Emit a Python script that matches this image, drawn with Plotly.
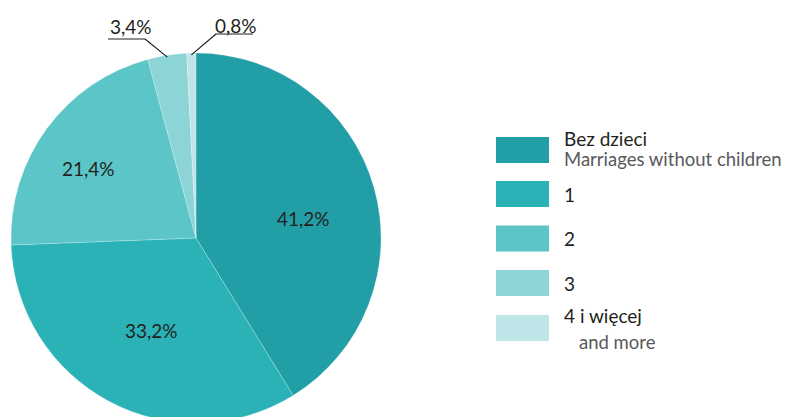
import math
import plotly.graph_objects as go

# Struktura małżeństw według liczby dzieci
categories = ["Bez dzieci", "1", "2", "3", "4 i więcej"]
subtitles = ["Marriages without children", "", "", "", "and more"]
shares = [41.2, 33.2, 21.4, 3.4, 0.8]
colors = ["#219ea6", "#2ab2b7", "#5bc5c8", "#8dd4d7", "#bfe5e8"]

W, H = 786, 423
CX, CY, R = 196, 238, 185          # pie centre and radius in px
FONT = "Lato"
DARK = "#231f20"
GREY = "#58595b"


def px(x):
    return x / W


def py(y):
    return 1 - y / H


def fmt(v):
    return f"{v:.1f}".replace(".", ",") + "%"


def edge_point(angle_deg, frac=1.0):
    a = math.radians(angle_deg)
    return CX + frac * R * math.sin(a), CY - frac * R * math.cos(a)


fig = go.Figure(go.Pie(
    labels=categories,
    values=shares,
    sort=False,
    direction="clockwise",
    rotation=0,
    marker=dict(colors=colors, line=dict(color="rgba(255,255,255,0.45)", width=0.5)),
    textinfo="none",
    hoverinfo="skip",
    showlegend=False,
    domain=dict(x=[px(CX - R), px(CX + R)], y=[0, 2 * R / H]),
))

# mid angle of each slice, clockwise from 12 o'clock
total = sum(shares)
mid_angles = []
acc = 0.0
for v in shares:
    mid_angles.append((acc + v / 2) / total * 360)
    acc += v

annotations = []
shapes = []

# labels inside the three large slices: (radial fraction, angular nudge)
inside_place = {0: (0.59, 5.7), 1: (0.553, -2.5), 2: (0.694, -3.5)}
for i, (frac, nudge) in inside_place.items():
    x, y = edge_point(mid_angles[i] + nudge, frac)
    annotations.append(dict(
        x=px(x), y=py(y), xref="paper", yref="paper",
        text=fmt(shares[i]), showarrow=False,
        xanchor="center", yanchor="middle",
        font=dict(family=FONT, size=19, color=DARK),
    ))

# labels for the two thin slices, with leader line and underline
outside_place = {
    3: dict(elbow=(145, 39), tail=108, text=(131, 27)),
    4: dict(elbow=(216, 34), tail=253, text=(235.5, 26)),
}
for i, p in outside_place.items():
    ex, ey = edge_point(mid_angles[i], 0.99)
    bx, by = p["elbow"]
    shapes.append(dict(type="line", xref="paper", yref="paper",
                       x0=px(ex), y0=py(ey), x1=px(bx), y1=py(by),
                       line=dict(color=DARK, width=1.2)))
    shapes.append(dict(type="line", xref="paper", yref="paper",
                       x0=px(bx), y0=py(by), x1=px(p["tail"]), y1=py(by),
                       line=dict(color=DARK, width=1.2)))
    tx, ty = p["text"]
    annotations.append(dict(
        x=px(tx), y=py(ty), xref="paper", yref="paper",
        text=fmt(shares[i]), showarrow=False,
        xanchor="center", yanchor="middle",
        font=dict(family=FONT, size=19, color=DARK),
    ))

# legend drawn as swatches plus two-level captions
sw_x0, sw_x1 = 496, 549
sw_tops = [137, 181, 225.5, 270, 315]
sw_h = 26
text_x = 562
for i, cat in enumerate(categories):
    top = sw_tops[i]
    shapes.append(dict(type="rect", xref="paper", yref="paper",
                       x0=px(sw_x0), x1=px(sw_x1), y0=py(top), y1=py(top + sw_h),
                       fillcolor=colors[i], line=dict(width=0)))
    mid = top + sw_h / 2
    if subtitles[i]:
        first_base, second_base = mid - 5.5, mid + 20.5
        if i == 0:
            first_base, second_base = mid - 5, mid + 16
        annotations.append(dict(
            x=px(text_x), y=py(first_base - 7), xref="paper", yref="paper",
            text=cat, showarrow=False, xanchor="left", yanchor="middle",
            font=dict(family=FONT, size=19, color=DARK),
        ))
        sub_x = text_x if i == 0 else text_x + 15
        annotations.append(dict(
            x=px(sub_x), y=py(second_base - 7), xref="paper", yref="paper",
            text=subtitles[i], showarrow=False, xanchor="left", yanchor="middle",
            font=dict(family=FONT, size=18.5, color=GREY),
        ))
    else:
        annotations.append(dict(
            x=px(text_x), y=py(mid), xref="paper", yref="paper",
            text=cat, showarrow=False, xanchor="left", yanchor="middle",
            font=dict(family=FONT, size=19, color=DARK),
        ))

fig.update_layout(
    width=W, height=H,
    margin=dict(l=0, r=0, t=0, b=0),
    paper_bgcolor="white",
    plot_bgcolor="white",
    annotations=annotations,
    shapes=shapes,
)

fig.write_html(
    "out.html",
    config={"displayModeBar": False},
    post_script="document.documentElement.style.overflow='hidden';"
                "document.body.style.overflow='hidden';",
)
